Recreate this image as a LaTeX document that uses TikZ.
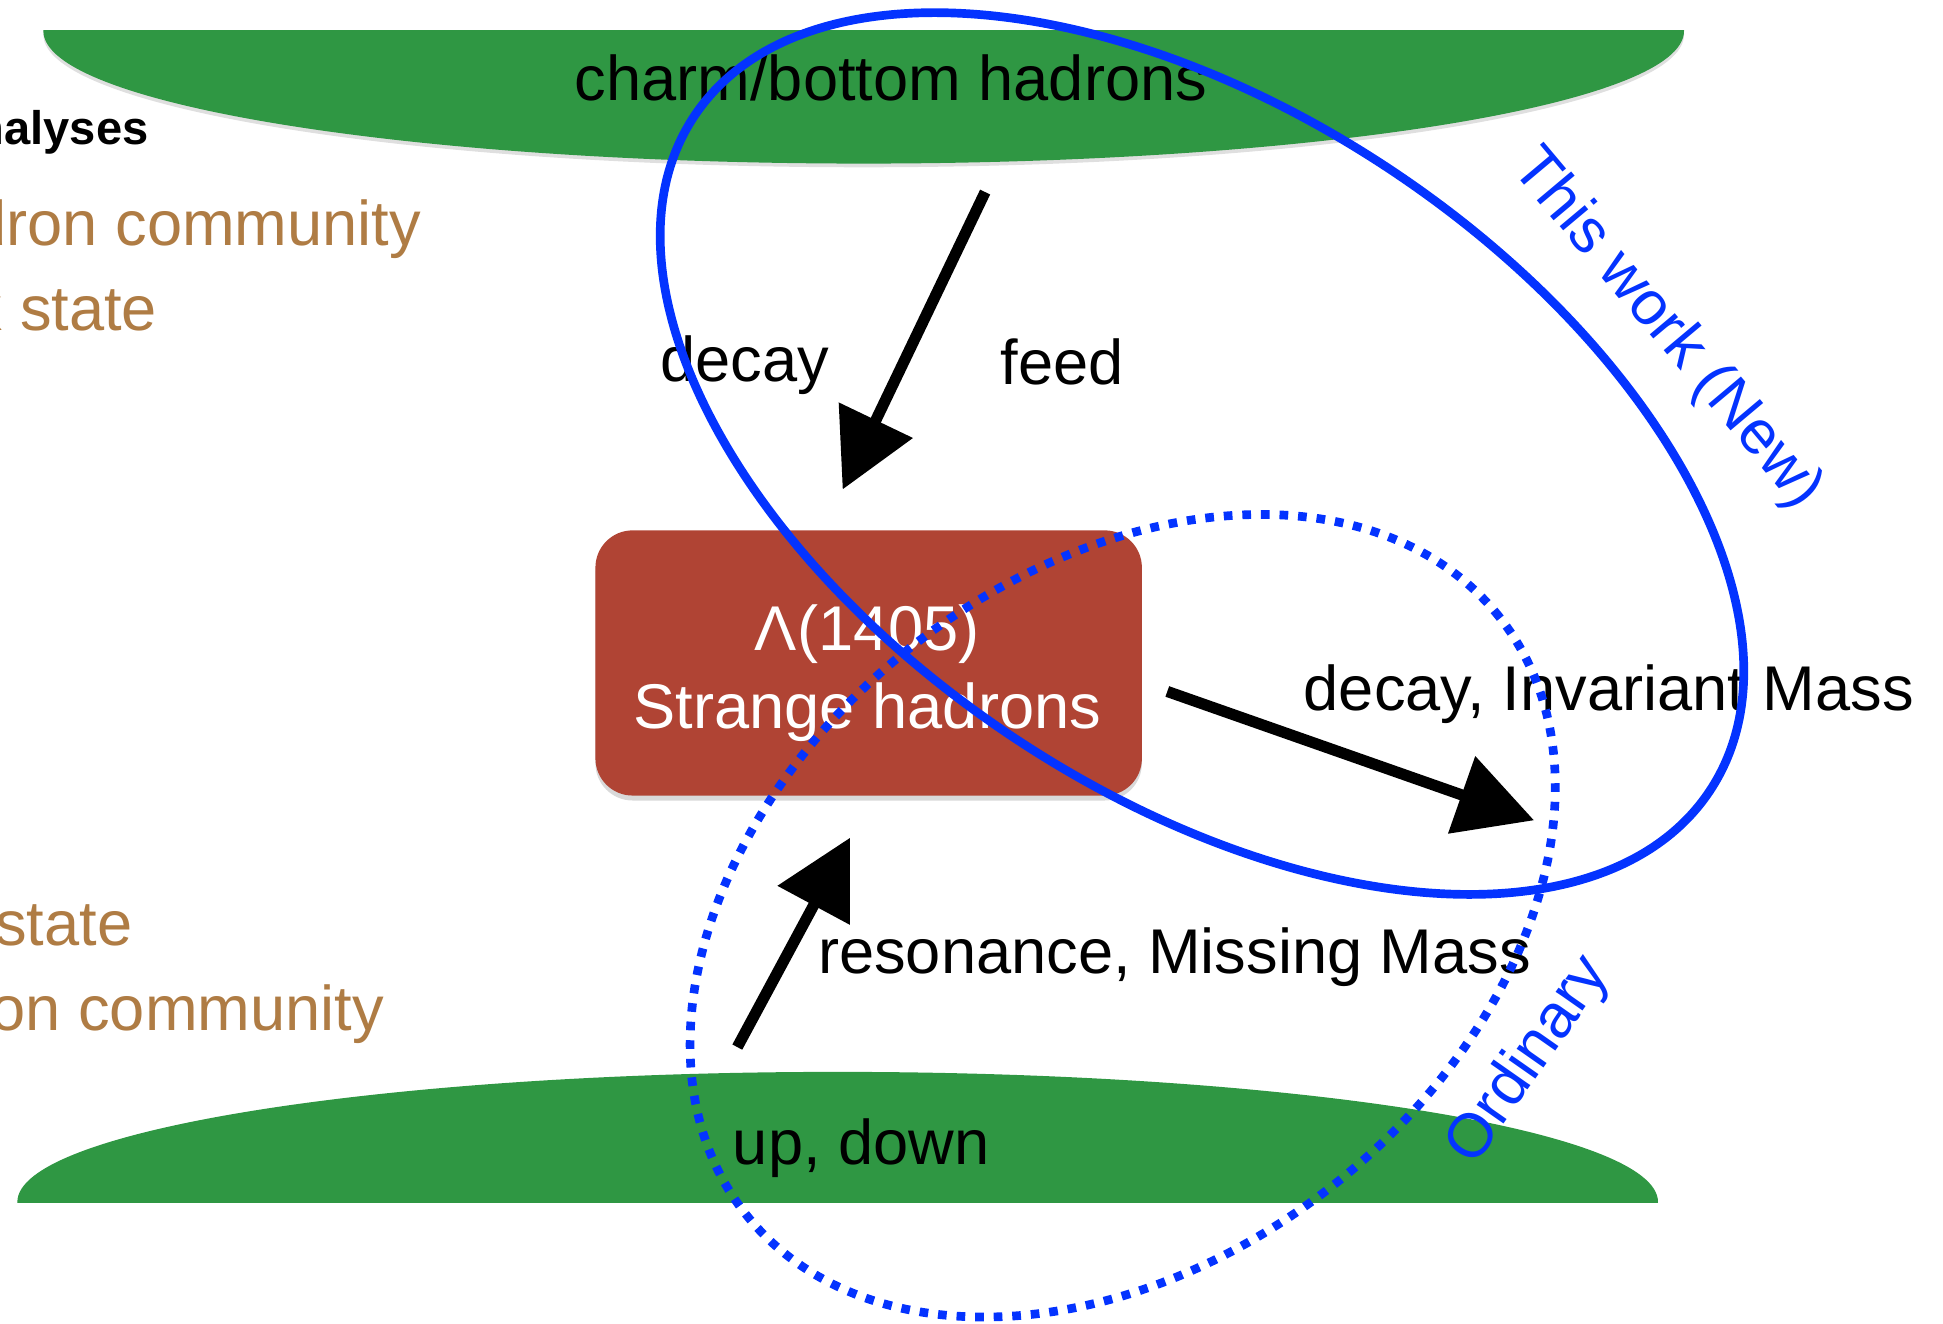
\documentclass[tikz,border=0pt]{standalone}
\usepackage{fontspec}
\setmainfont{Liberation Sans}
\usetikzlibrary{arrows.meta,shadows}
\definecolor{hgreen}{RGB}{47,151,67}
\definecolor{hred}{RGB}{176,68,52}
\definecolor{hblue}{RGB}{4,51,255}
\definecolor{hbrown}{RGB}{175,124,68}
\begin{document}
\begin{tikzpicture}[x=1pt,y=1pt,
  big/.style={font=\fontsize{51pt}{62pt}\selectfont, inner sep=0pt},
  side/.style={font=\fontsize{51pt}{62pt}\selectfont, inner sep=0pt, text=hbrown, anchor=base east},
  bluetext/.style={font=\fontsize{50pt}{60pt}\selectfont, inner sep=0pt, text=hblue},
  chalk/.style={line width=9pt, draw=black, -{Triangle[length=62pt,width=64pt]}},
  greenblob/.style={fill=hgreen, drop shadow={opacity=0.25, shadow xshift=0pt, shadow yshift=-3pt}}]
\useasboundingbox (0,0) rectangle (1568,-1068);
\clip (0,0) rectangle (1568,-1068);

% green regions
\begin{scope}
  \clip (0,-25) rectangle (1568,-400);
  \fill[greenblob] (697,-25) ellipse [x radius=662pt, y radius=107pt];
\end{scope}
\begin{scope}
  \clip (0,-970) rectangle (1568,-600);
  \fill[greenblob] (676,-970) ellipse [x radius=662pt, y radius=105pt];
\end{scope}
\node[big, anchor=base] (cb) at (719,-81) {charm/bottom hadrons};
\node[big, anchor=base] (ud) at (695,-940) {up, down};

% left side texts
\node[font=\fontsize{38pt}{44pt}\selectfont\bfseries, inner sep=0pt, anchor=base east] (an) at (120,-117) {nalyses};
\node[side] (t1) at (340,-198) {dron community};
\node[side] (t2) at (127,-267) {k state};
\node[side] (t3) at (107,-763) {state};
\node[side] (t4) at (310,-832) {on community};

% central box
\node[fill=hred, rounded corners=30pt, minimum width=441pt, minimum height=214pt, inner sep=0pt,
      drop shadow={opacity=0.3, shadow xshift=0pt, shadow yshift=-4pt}] (lam) at (701,-535) {};
\node[big, text=white, anchor=base] (lamA) at (700,-525) {Λ(1405)};
\node[big, text=white, anchor=base] (lamB) at (700,-588) {Strange hadrons};

% labels
\node[big, anchor=base] (dec) at (601,-308) {decay};
\node[big, anchor=base] (fd) at (857,-310) {feed};
\node[big, anchor=base west] (dim) at (1052,-573) {decay, Invariant Mass};
\node[big, anchor=base west] (res) at (660,-786) {resonance, Missing Mass};

% arrows
\coordinate (a1s) at (795,-155);
\coordinate (a1e) at (680,-395);
\coordinate (a2s) at (942,-558);
\coordinate (a2e) at (1238,-662);
\coordinate (a3s) at (595,-845);
\coordinate (a3e) at (686,-676);
\draw[chalk] (a1s) -- (a1e);
\draw[chalk] (a2s) -- (a2e);
\draw[chalk] (a3s) -- (a3e);

% blue ellipses
\draw[hblue, line width=7pt, rotate around={-33.6:(970,-366)}] (970,-366) ellipse [x radius=492pt, y radius=275pt];
\draw[hblue, line width=7pt, dash pattern=on 7pt off 8pt, rotate around={38.4:(906,-739)}] (906,-739) ellipse [x radius=388pt, y radius=276pt];

\node[bluetext, rotate=-50] (tw) at (1345,-266) {This work (New)};
\node[bluetext, rotate=55] (ord) at (1234,-856) {Ordinary};
\end{tikzpicture}
\end{document}
